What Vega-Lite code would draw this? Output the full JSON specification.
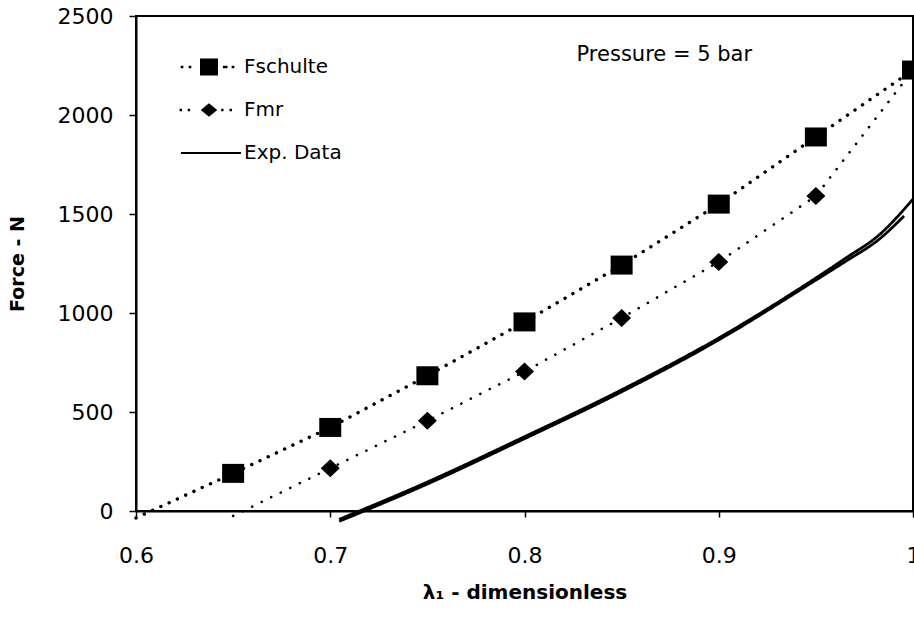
{
  "$schema": "https://vega.github.io/schema/vega-lite/v6.json",
  "width": 777,
  "height": 495,
  "autosize": "none",
  "padding": {"left": 136, "top": 16, "right": 1, "bottom": 108},
  "background": "white",
  "config": {
    "font": "DejaVu Sans",
    "view": {"stroke": "black", "strokeWidth": 2},
    "axis": {
      "domainColor": "black", "domainWidth": 2, "tickColor": "black", "tickWidth": 1.5,
      "labelColor": "black", "titleColor": "black", "grid": false,
      "labelFont": "DejaVu Sans", "titleFont": "DejaVu Sans", "titleFontWeight": "bold",
      "labelFontSize": 22, "labelOverlap": false, "labelFlush": false, "labelBound": false
    }
  },
  "resolve": {"scale": {"shape": "independent"}, "legend": {"shape": "independent"}},
  "datasets": {
    "main": [
      {"series": "Fschulte", "run": "a", "lambda": 0.6, "force": -35},
      {"series": "Fschulte", "run": "a", "lambda": 0.65, "force": 190},
      {"series": "Fschulte", "run": "a", "lambda": 0.7, "force": 422},
      {"series": "Fschulte", "run": "a", "lambda": 0.75, "force": 683},
      {"series": "Fschulte", "run": "a", "lambda": 0.8, "force": 955},
      {"series": "Fschulte", "run": "a", "lambda": 0.85, "force": 1242},
      {"series": "Fschulte", "run": "a", "lambda": 0.9, "force": 1550},
      {"series": "Fschulte", "run": "a", "lambda": 0.95, "force": 1889},
      {"series": "Fschulte", "run": "a", "lambda": 1.0, "force": 2227},
      {"series": "Fmr", "run": "a", "lambda": 0.65, "force": -25},
      {"series": "Fmr", "run": "a", "lambda": 0.7, "force": 216},
      {"series": "Fmr", "run": "a", "lambda": 0.75, "force": 456},
      {"series": "Fmr", "run": "a", "lambda": 0.8, "force": 704},
      {"series": "Fmr", "run": "a", "lambda": 0.85, "force": 975},
      {"series": "Fmr", "run": "a", "lambda": 0.9, "force": 1258},
      {"series": "Fmr", "run": "a", "lambda": 0.95, "force": 1591},
      {"series": "Fmr", "run": "a", "lambda": 1.0, "force": 2227},
      {"series": "Exp. Data", "run": "a", "lambda": 0.7046, "force": -42},
      {"series": "Exp. Data", "run": "a", "lambda": 0.716, "force": 4},
      {"series": "Exp. Data", "run": "a", "lambda": 0.7467, "force": 132},
      {"series": "Exp. Data", "run": "a", "lambda": 0.798, "force": 366},
      {"series": "Exp. Data", "run": "a", "lambda": 0.849, "force": 607},
      {"series": "Exp. Data", "run": "a", "lambda": 0.9, "force": 874},
      {"series": "Exp. Data", "run": "a", "lambda": 0.948, "force": 1164},
      {"series": "Exp. Data", "run": "a", "lambda": 0.9655, "force": 1278},
      {"series": "Exp. Data", "run": "a", "lambda": 0.9825, "force": 1394},
      {"series": "Exp. Data", "run": "a", "lambda": 1.0, "force": 1575},
      {"series": "Exp. Data", "run": "b", "lambda": 0.7046, "force": -52},
      {"series": "Exp. Data", "run": "b", "lambda": 0.716, "force": -6},
      {"series": "Exp. Data", "run": "b", "lambda": 0.7467, "force": 122},
      {"series": "Exp. Data", "run": "b", "lambda": 0.798, "force": 356},
      {"series": "Exp. Data", "run": "b", "lambda": 0.849, "force": 597},
      {"series": "Exp. Data", "run": "b", "lambda": 0.9, "force": 864},
      {"series": "Exp. Data", "run": "b", "lambda": 0.948, "force": 1154},
      {"series": "Exp. Data", "run": "b", "lambda": 0.9655, "force": 1262},
      {"series": "Exp. Data", "run": "b", "lambda": 0.9825, "force": 1372},
      {"series": "Exp. Data", "run": "b", "lambda": 0.9954, "force": 1490}
    ],
    "note": [{"label": "Pressure = 5 bar", "lambda": 0.8268, "force": 2273}]
  },
  "layer": [
    {
      "data": {"name": "main"},
      "transform": [{"filter": "datum.series === 'Fschulte'"}],
      "mark": {"type": "line", "color": "black", "strokeWidth": 3.4, "strokeCap": "round"},
      "encoding": {
        "x": {"field": "lambda", "type": "quantitative", "scale": {"domain": [0.6, 1.0], "nice": false, "zero": false},
          "axis": {"values": [0.6, 0.7, 0.8, 0.9, 1.0], "labelExpr": "datum.value >= 0.999 ? '1' : format(datum.value, '.1f')",
            "title": "λ₁ - dimensionless", "titleFontSize": 20, "tickSize": 6, "labelPadding": 28, "titlePadding": 16}},
        "y": {"field": "force", "type": "quantitative", "scale": {"domain": [0, 2500], "nice": false},
          "axis": {"values": [0, 500, 1000, 1500, 2000, 2500], "format": "d", "title": "Force - N", "titleFontSize": 19, "tickSize": 7, "labelPadding": 16, "titlePadding": 30}},
        "strokeDash": {"field": "series", "type": "nominal",
          "scale": {"domain": ["Fschulte", "Fmr", "Exp. Data"], "range": [[0.1, 9], [0.1, 10.5], [1, 0]]},
          "legend": null}
      }
    },
    {
      "data": {"name": "main"},
      "transform": [{"filter": "datum.series === 'Fmr'"}],
      "mark": {"type": "line", "color": "black", "strokeWidth": 2.6, "strokeCap": "round"},
      "encoding": {
        "x": {"field": "lambda", "type": "quantitative"},
        "y": {"field": "force", "type": "quantitative"},
        "strokeDash": {"field": "series", "type": "nominal", "legend": null}
      }
    },
    {
      "data": {"name": "main"},
      "transform": [{"filter": "datum.series === 'Exp. Data'"}],
      "mark": {"type": "line", "color": "black", "strokeWidth": 2.8, "interpolate": "monotone"},
      "encoding": {
        "x": {"field": "lambda", "type": "quantitative"},
        "y": {"field": "force", "type": "quantitative"},
        "detail": {"field": "run"},
        "strokeDash": {"field": "series", "type": "nominal", "legend": null}
      }
    },
    {
      "data": {"name": "main"},
      "transform": [{"filter": "datum.series !== 'Exp. Data' && datum.force > 0"}],
      "mark": {"type": "point", "filled": true, "color": "black", "opacity": 1, "size": 400},
      "encoding": {
        "x": {"field": "lambda", "type": "quantitative"},
        "y": {"field": "force", "type": "quantitative"},
        "shape": {"field": "series", "type": "nominal",
          "scale": {"domain": ["Fschulte", "Fmr"], "range": ["M-1.1,-0.95H1.1V0.95H-1.1Z", "M-0.95,0L0,-0.9L0.95,0L0,0.9Z"]},
          "legend": null}
      }
    },
    {
      "data": {"name": "main"},
      "transform": [{"filter": "false"}],
      "mark": {"type": "point", "filled": true, "color": "black", "opacity": 1},
      "encoding": {
        "x": {"field": "lambda", "type": "quantitative"},
        "y": {"field": "force", "type": "quantitative"},
        "shape": {"field": "series", "type": "nominal",
          "scale": {"domain": ["Fschulte", "Fmr", "Exp. Data"],
            "range": [
              "M-0.6,-0.57H0.6V0.57H-0.6Z M-1.89,-0.09h0.18v0.18h-0.18Z M-1.36,-0.09h0.18v0.18h-0.18Z M0.93,-0.09h0.3v0.18h-0.3Z M1.51,-0.09h0.18v0.18h-0.18Z",
              "M-0.55,0L0,-0.45L0.55,0L0,0.45Z M-1.96,-0.08h0.16v0.16h-0.16Z M-1.42,-0.08h0.16v0.16h-0.16Z M0.81,-0.08h0.16v0.16h-0.16Z M1.37,-0.08h0.16v0.16h-0.16Z",
              "M-1.87,-0.07H2.13V0.07H-1.87Z"
            ]},
          "legend": {
            "orient": "none", "legendX": 58, "legendY": 36, "title": null, "padding": 0,
            "symbolSize": 900, "symbolFillColor": "black", "symbolStrokeWidth": 0, "symbolOpacity": 1,
            "labelFontSize": 20, "labelFont": "DejaVu Sans", "labelColor": "black",
            "labelOffset": 20, "rowPadding": 18
          }}
      }
    },
    {
      "data": {"name": "note"},
      "mark": {"type": "text", "align": "left", "baseline": "alphabetic", "font": "DejaVu Sans", "fontSize": 21, "color": "black"},
      "encoding": {
        "x": {"field": "lambda", "type": "quantitative"},
        "y": {"field": "force", "type": "quantitative"},
        "text": {"field": "label"}
      }
    }
  ]
}
